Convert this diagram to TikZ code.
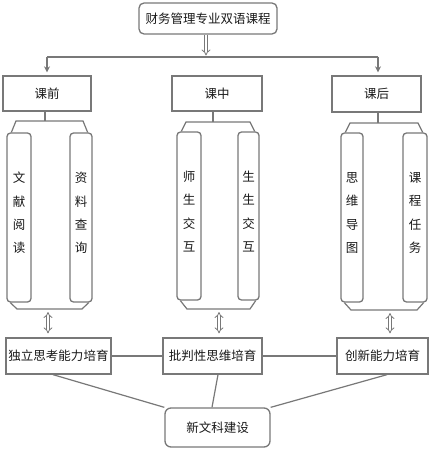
\documentclass[tikz,border=0pt]{standalone}
\usepackage{fontspec}
\newfontfamily\cjk{Noto Sans CJK SC}
\usetikzlibrary{arrows.meta}
\definecolor{lg}{RGB}{120,120,120}
\definecolor{tx}{RGB}{25,25,25}
\tikzset{
  box/.style={draw=lg, line width=1.3pt, fill=white, inner sep=1pt, text=tx,
    font=\cjk\fontsize{12.5}{15}\selectfont},
  rbox/.style={box, rounded corners=5pt},
  tallbox/.style={draw=lg, line width=1.3pt, rounded corners=3.5pt, inner sep=0pt},
  vtext/.style={align=center, inner sep=0pt, text=tx, font=\cjk\fontsize{12.5}{23.3}\selectfont},
  conn/.style={draw=lg, line width=1.2pt},
  harrow/.style={draw=lg, line width=0.8pt, double, double distance=2.2pt},
  arr/.style={conn, -{Stealth[length=6pt,width=6pt]}}
}
\begin{document}
\begin{tikzpicture}[x=1pt,y=-1pt]
\useasboundingbox[fill=white] (0,0) rectangle (432,452);
% top
\node[rbox, minimum width=138pt, minimum height=31pt] (top) at (208,18.5) {财务管理专业双语课程};
% stage boxes
\node[box, minimum width=88pt, minimum height=35pt] (b1) at (47,93.5) {课前};
\node[box, minimum width=90pt, minimum height=35pt] (b2) at (217,93.5) {课中};
\node[box, minimum width=89pt, minimum height=36pt] (b3) at (376.5,94) {课后};
% connector top
\coordinate (tj) at (206,57);
\coordinate (hl) at (47,57);
\coordinate (hr) at (378,57);
\draw[harrow, -{Implies}] (top.south -| tj) -- ([yshift=1.5pt]tj);
\draw[conn] (hl) -- (hr);
\draw[arr] (hl) -- ([yshift=3pt]b1.north -| hl);
\draw[arr] (hr) -- ([yshift=3pt]b3.north -| hr);
% tall boxes
\node[tallbox, minimum width=24pt, minimum height=169pt] (t1a) at (19,217.5) {};
\node[tallbox, minimum width=22pt, minimum height=169pt] (t1b) at (81,217.5) {};
\node[tallbox, minimum width=24pt, minimum height=168pt] (t2a) at (189,216) {};
\node[tallbox, minimum width=21pt, minimum height=168pt] (t2b) at (248.5,216) {};
\node[tallbox, minimum width=22pt, minimum height=169pt] (t3a) at (352,217.5) {};
\node[tallbox, minimum width=24pt, minimum height=169pt] (t3b) at (415,217.5) {};
\node[vtext] (x1a) at ([yshift=4.5pt]t1a.center) {文\\献\\阅\\读};
\node[vtext] (x1b) at ([yshift=4.5pt]t1b.center) {资\\料\\查\\询};
\node[vtext] (x2a) at ([yshift=4.5pt]t2a.center) {师\\生\\交\\互};
\node[vtext] (x2b) at ([yshift=4.5pt]t2b.center) {生\\生\\交\\互};
\node[vtext] (x3a) at ([yshift=4.5pt]t3a.center) {思\\维\\导\\图};
\node[vtext] (x3b) at ([yshift=4.5pt]t3b.center) {课\\程\\任\\务};
% top brackets
\draw[conn] (b1.south -| 45,0) -- (45,121);
\draw[conn] ([xshift=5pt]t1a.north west) -- (16,121) -- (83,121) -- ([xshift=-5pt]t1b.north east);
\draw[conn] (b2.south -| 213,0) -- (213,122);
\draw[conn] ([xshift=5pt]t2a.north west) -- (186,122) -- (250,122) -- ([xshift=-5pt]t2b.north east);
\draw[conn] (b3.south -| 378,0) -- (378,123);
\draw[conn] ([xshift=5pt]t3a.north west) -- (350,123) -- (418,123) -- ([xshift=-5pt]t3b.north east);
% bottom brackets
\draw[conn] ([xshift=4pt]t1a.south west) -- (17,309) -- (82,309) -- ([xshift=-4pt]t1b.south east);
\draw[conn] ([xshift=4pt]t2a.south west) -- (187,309) -- (250,309) -- ([xshift=-4pt]t2b.south east);
\draw[conn] ([xshift=4pt]t3a.south west) -- (351,310) -- (417,310) -- ([xshift=-4pt]t3b.south east);
% ability boxes
\node[box, minimum width=105pt, minimum height=36pt] (c1) at (58.5,356) {独立思考能力培育};
\node[box, minimum width=99pt, minimum height=36pt] (c2) at (212.5,356) {批判性思维培育};
\node[box, minimum width=91pt, minimum height=36pt] (c3) at (382.5,356) {创新能力培育};
\coordinate (d1) at (48,312);
\coordinate (d2) at (219,312);
\coordinate (d3) at (390,313);
\draw[harrow, {Implies}-{Implies}] (d1) -- ([yshift=4pt]c1.north -| d1);
\draw[harrow, {Implies}-{Implies}] (d2) -- ([yshift=4pt]c2.north -| d2);
\draw[harrow, {Implies}-{Implies}] (d3) -- ([yshift=4pt]c3.north -| d3);
\draw[conn] (c1) -- (c2);
\draw[conn] (c2) -- (c3);
% final
\node[rbox, rounded corners=6pt, minimum width=105pt, minimum height=39pt] (fin) at (217.5,427.5) {新文科建设};
\draw[conn] (c1.south -| 53,0) -- (fin.north west);
\draw[conn] (c2.south -| 218,0) -- (fin.north -| 212,0);
\draw[conn] (c3.south -| 387,0) -- (fin.north east);
\end{tikzpicture}
\end{document}
